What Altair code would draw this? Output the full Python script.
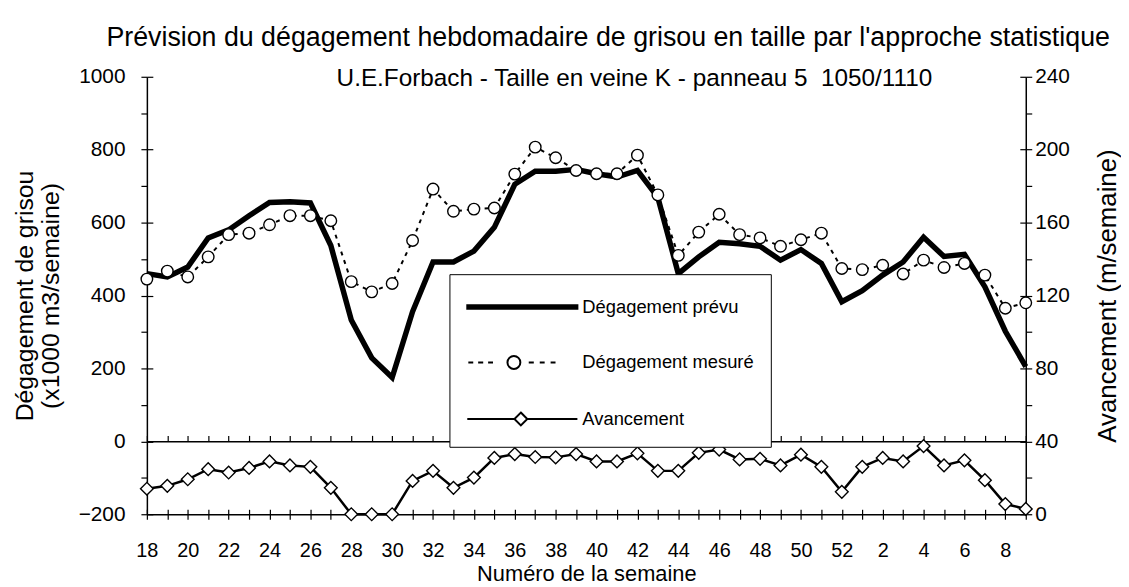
import altair as alt
import pandas as pd

weeks = [str(w) for w in range(18, 53)] + [str(w) for w in range(1, 10)]

predicted = [460, 451, 478, 558, 580, 619, 655, 657, 654, 537,
             333, 229, 175, 356, 492, 492, 522, 587, 705, 741,
             741, 746, 734, 725, 743, 669, 460, 506, 546, 542,
             535, 497, 526, 488, 383, 413, 456, 492, 560, 507,
             513, 424, 302, 205]

measured = [445, 467, 451, 506, 567, 571, 594, 619, 619, 605,
            438, 410, 433, 551, 692, 631, 637, 640, 733, 807,
            778, 743, 734, 734, 785, 676, 510, 574, 623, 567,
            558, 535, 553, 571, 474, 471, 483, 459, 497, 477,
            488, 456, 365, 380]

avancement = [14, 15.6, 19.2, 24.7, 22.9, 25.4, 29, 26.8, 26, 14.5,
              0, 0, 0, 18.3, 23.8, 14.5, 20.1, 30.9, 33, 31.4,
              31.2, 33, 29, 29, 33.4, 23.8, 23.8, 33.7, 35.5, 30.1,
              30.4, 26.8, 32.7, 26, 12.3, 26, 30.9, 29, 37.4, 26.8,
              29.6, 18.7, 5.6, 2.9]

series_names = ["Dégagement prévu", "Dégagement mesuré", "Avancement"]

title_text = "Prévision du dégagement hebdomadaire de grisou en taille par l'approche statistique"
subtitle_text = "U.E.Forbach - Taille en veine K - panneau 5\u00a0\u00a01050/1110"

left_ticks = list(range(-200, 1001, 100))
left_major = list(range(-200, 1001, 200))
right_ticks = list(range(0, 241, 20))
right_major = list(range(0, 241, 40))

FONT = "Liberation Sans"

df = pd.DataFrame({"week": weeks, "predicted": predicted,
                   "measured": measured, "avancement": avancement})

xscale = alt.Scale(type="point", padding=0, domain=weeks)
yl = alt.Scale(domain=[-200, 1000], nice=False, zero=False)
yr = alt.Scale(domain=[0, 240], nice=False, zero=False)


def xenc(axis):
    return alt.X("week:O", sort=weeks, scale=xscale, axis=axis)


base = alt.Chart(df)

# main bottom axis
x_main = alt.Axis(values=weeks, labelExpr="toNumber(datum.value) % 2 == 0 ? datum.value : ''",
                  tickSize=5, labelPadding=22, labelAngle=0, labelFontSize=20, labelFont=FONT,
                  title="Numéro de la semaine", titleFontSize=22, titleFont=FONT,
                  titleFontWeight="normal", titlePadding=3, domainWidth=1.5)
y_main = alt.Axis(values=left_ticks, labelExpr="datum.value % 200 == 0 ? datum.label : ''",
                  tickSize=6, labelPadding=16, labelFontSize=21, labelFont=FONT, format="d",
                  title=["Dégagement de grisou", "(x1000 m3/semaine)"], titleFontSize=25,
                  titleFont=FONT, titleFontWeight="normal", titlePadding=15, titleLineHeight=26,
                  domainWidth=1.5)

pred_line = base.mark_line(color="black", strokeWidth=5.5, strokeJoin="miter").encode(
    x=xenc(x_main),
    y=alt.Y("predicted:Q", scale=yl, axis=y_main),
)

# zero line axis with upward ticks + inner major ticks on the left
x_zero = alt.Axis(orient="top", offset=-367.5, values=weeks, labels=False, tickSize=6,
                  title=None, domainWidth=1.5)
y_inner = alt.Axis(orient="left", offset=-6, values=left_major, labels=False, tickSize=6,
                   domain=False, title=None)
meas_line = base.mark_line(color="black", strokeWidth=2, strokeDash=[4, 5]).encode(
    x=xenc(x_zero),
    y=alt.Y("measured:Q", scale=yl, axis=y_inner),
)

x_inner = alt.Axis(orient="bottom", offset=-5, values=weeks, labels=False, tickSize=5,
                   domain=False, title=None)
meas_pts = base.mark_point(shape="circle", size=135, filled=False, fill="white",
                           stroke="black", strokeWidth=1.4, opacity=1).encode(
    x=xenc(x_inner),
    y=alt.Y("measured:Q", scale=yl, axis=None),
)

# top "axis" carrying the secondary heading inside the frame
x_sub = alt.Axis(orient="top", domain=False, ticks=False, labels=False,
                 title=subtitle_text, titleFont=FONT, titleFontSize=24.5,
                 titleFontWeight="normal", titleX=491, titleY=2, titleAlign="center",
                 titleBaseline="middle", titleAngle=0)
y_right = alt.Axis(orient="right", values=right_ticks,
                   labelExpr="datum.value % 40 == 0 ? datum.label : ''",
                   tickSize=6, labelPadding=3, labelFontSize=21, labelFont=FONT, format="d",
                   title="Avancement (m/semaine)", titleFontSize=26, titleFont=FONT,
                   titleFontWeight="normal", titleAngle=270, titlePadding=51, domainWidth=1.5)
av_line = base.mark_line(color="black", strokeWidth=2.5).encode(
    x=xenc(x_sub),
    y=alt.Y("avancement:Q", scale=yr, axis=y_right),
)

y_right_inner = alt.Axis(orient="right", offset=-6, values=right_major, labels=False,
                         tickSize=6, domain=False, title=None)
av_pts = base.mark_point(shape="diamond", size=165, filled=False, fill="white",
                         stroke="black", strokeWidth=1.4, opacity=1).encode(
    x=xenc(None),
    y=alt.Y("avancement:Q", scale=yr, axis=y_right_inner),
)

# legend symbols (custom paths, units of 15 px)
p_pred = "M-1,-0.12H6.4V0.12H-1Z"
p_meas = ("M-0.93,0H-0.6M-0.27,0H0.07M0.4,0H0.73"
          "M1.7,0A0.433,0.433 0 1,0 2.566,0A0.433,0.433 0 1,0 1.7,0Z"
          "M3.13,0H3.47M3.87,0H4.2M4.6,0H4.93")
p_av = "M-1,0H2.167M3.033,0H6.4M2.6,-0.433L3.033,0L2.6,0.433L2.167,0Z"

legend_df = pd.DataFrame({"series": series_names})
leg = alt.Legend(title=None, orient="none", legendX=305, legendY=199, padding=17,
                 fillColor="white", strokeColor="black", symbolSize=900,
                 symbolStrokeWidth=2, symbolStrokeColor="black", symbolOpacity=1,
                 labelFont=FONT, labelFontSize=18.5, labelOffset=85, rowPadding=30,
                 labelColor="black", labelLimit=400)
legend_layer = alt.Chart(legend_df).transform_filter("false").mark_point(
    filled=False, strokeWidth=2).encode(
    shape=alt.Shape("series:N", scale=alt.Scale(domain=series_names,
                                                range=[p_pred, p_meas, p_av]), legend=leg),
    fill=alt.Fill("series:N", scale=alt.Scale(domain=series_names,
                                              range=["black", "white", "white"]), legend=leg),
    stroke=alt.Stroke("series:N", scale=alt.Scale(domain=series_names,
                                                  range=["black", "black", "black"]), legend=leg),
)

chart = alt.layer(pred_line, meas_line, meas_pts, av_line, av_pts, legend_layer).resolve_scale(
    x="independent", y="independent"
).properties(
    width=886, height=441,
    padding={"top": 14, "left": 4, "right": 0, "bottom": 0},
    title=alt.TitleParams(
        text=title_text,
        font=FONT, fontSize=27, fontWeight="normal", color="black",
        anchor="middle", dx=22, offset=14,
    ),
).configure_axis(
    domainColor="black", tickColor="black", labelColor="black", titleColor="black",
    grid=False, tickWidth=1.2,
).configure_view(stroke=None)

chart.save("out.html", embed_options={"renderer": "svg", "actions": False})
